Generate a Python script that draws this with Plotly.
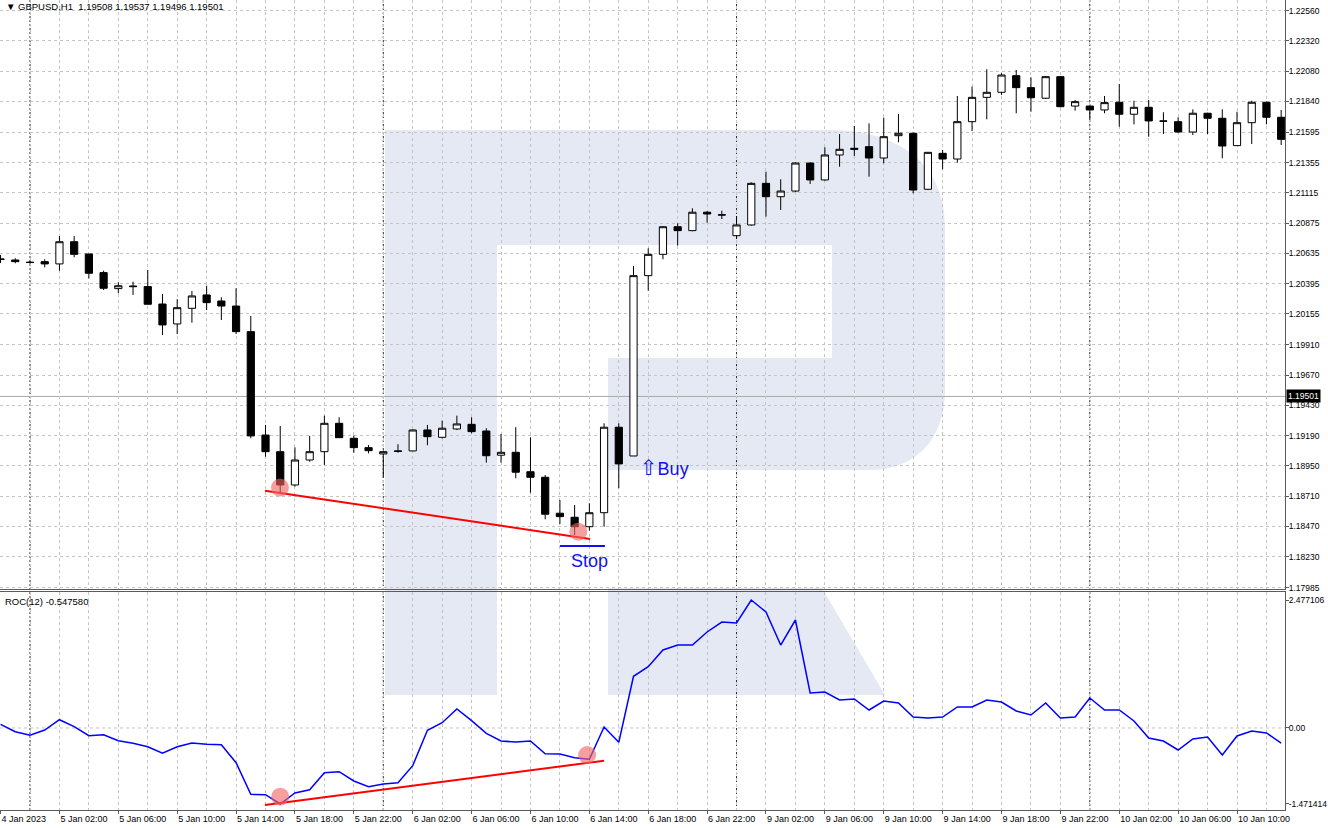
import plotly.graph_objects as go

# ---------------- data ----------------
bars = list(range(88))

opens = [1.20591, 1.20583, 1.20565, 1.20570, 1.20552, 1.20728, 1.20631, 1.20483, 1.20356, 1.20377,
         1.20372, 1.20234, 1.20076, 1.20200, 1.20306, 1.20258, 1.20218, 1.20015, 1.19195, 1.19063,
         1.18799, 1.18997, 1.19063, 1.19288, 1.19169, 1.19095, 1.19045, 1.19069, 1.19069, 1.19235,
         1.19177, 1.19243, 1.19280, 1.19227, 1.19035, 1.19058, 1.18904, 1.18860, 1.18575, 1.18543,
         1.18468, 1.18579, 1.19257, 1.19029, 1.20459, 1.20628, 1.20847, 1.20816, 1.20962, 1.20942,
         1.20776, 1.20861, 1.21191, 1.21085, 1.21130, 1.21352, 1.21218, 1.21416, 1.21469, 1.21482,
         1.21392, 1.21569, 1.21588, 1.21144, 1.21429, 1.21384, 1.21680, 1.21873, 1.21913, 1.22045,
         1.21950, 1.21866, 1.22037, 1.21804, 1.21804, 1.21773, 1.21834, 1.21739, 1.21794, 1.21686,
         1.21680, 1.21598, 1.21747, 1.21707, 1.21490, 1.21672, 1.21834, 1.21715]
highs = [1.20623, 1.20597, 1.20578, 1.20589, 1.20773, 1.20773, 1.20631, 1.20498, 1.20406, 1.20411,
         1.20504, 1.20314, 1.20272, 1.20337, 1.20379, 1.20287, 1.20359, 1.20139, 1.19275, 1.19267,
         1.19098, 1.19188, 1.19349, 1.19336, 1.19191, 1.19116, 1.19071, 1.19122, 1.19240, 1.19275,
         1.19309, 1.19349, 1.19336, 1.19249, 1.19203, 1.19257, 1.19177, 1.18878, 1.18680, 1.18640,
         1.18654, 1.19288, 1.19288, 1.20536, 1.20676, 1.20850, 1.20874, 1.20993, 1.20972, 1.20974,
         1.20932, 1.21199, 1.21283, 1.21223, 1.21358, 1.21358, 1.21477, 1.21582, 1.21646, 1.21667,
         1.21712, 1.21741, 1.21593, 1.21440, 1.21456, 1.21884, 1.21958, 1.22096, 1.22064, 1.22090,
         1.22032, 1.22042, 1.22042, 1.21852, 1.21804, 1.21884, 1.21979, 1.21846, 1.21852, 1.21755,
         1.21715, 1.21778, 1.21751, 1.21778, 1.21759, 1.21846, 1.21839, 1.21773]
lows = [1.20559, 1.20557, 1.20552, 1.20525, 1.20498, 1.20605, 1.20438, 1.20345, 1.20319, 1.20306,
        1.20232, 1.19988, 1.19996, 1.20086, 1.20187, 1.20107, 1.19996, 1.19169, 1.19023, 1.18733,
        1.18786, 1.18984, 1.18958, 1.19174, 1.19055, 1.19050, 1.18860, 1.19055, 1.19066, 1.19114,
        1.19169, 1.19235, 1.19209, 1.18976, 1.18976, 1.18852, 1.18738, 1.18527, 1.18490, 1.18402,
        1.18437, 1.18468, 1.18773, 1.19029, 1.20340, 1.20589, 1.20697, 1.20811, 1.20879, 1.20908,
        1.20750, 1.20855, 1.20927, 1.20980, 1.21122, 1.21186, 1.21212, 1.21323, 1.21408, 1.21244,
        1.21350, 1.21517, 1.21112, 1.21138, 1.21303, 1.21355, 1.21606, 1.21699, 1.21892, 1.21747,
        1.21759, 1.21860, 1.21794, 1.21767, 1.21693, 1.21747, 1.21640, 1.21659, 1.21561, 1.21582,
        1.21593, 1.21574, 1.21582, 1.21390, 1.21487, 1.21503, 1.21659, 1.21495]
closes = [1.20589, 1.20570, 1.20564, 1.20552, 1.20728, 1.20628, 1.20478, 1.20359, 1.20379, 1.20372,
          1.20232, 1.20068, 1.20205, 1.20298, 1.20245, 1.20218, 1.20015, 1.19188, 1.19063, 1.18799,
          1.18997, 1.19063, 1.19288, 1.19174, 1.19095, 1.19071, 1.19063, 1.19066, 1.19235, 1.19182,
          1.19249, 1.19283, 1.19222, 1.19031, 1.19058, 1.18900, 1.18860, 1.18567, 1.18548, 1.18468,
          1.18579, 1.19257, 1.18966, 1.20459, 1.20628, 1.20847, 1.20816, 1.20962, 1.20948, 1.20940,
          1.20861, 1.21191, 1.21085, 1.21130, 1.21352, 1.21218, 1.21416, 1.21461, 1.21461, 1.21392,
          1.21561, 1.21588, 1.21138, 1.21437, 1.21384, 1.21680, 1.21873, 1.21913, 1.22050, 1.21950,
          1.21870, 1.22037, 1.21799, 1.21839, 1.21773, 1.21831, 1.21739, 1.21794, 1.21686, 1.21684,
          1.21598, 1.21747, 1.21707, 1.21487, 1.21672, 1.21834, 1.21715, 1.21540]

roc = [0.071, -0.072, -0.142, -0.039, 0.160, 0.025, -0.150, -0.130, -0.246, -0.297,
       -0.363, -0.490, -0.363, -0.291, -0.316, -0.324, -0.672, -1.284, -1.292, -1.471414,
       -1.259, -1.195, -0.866, -0.846, -1.026, -1.137, -1.084, -1.059, -0.730, -0.045,
       0.102, 0.367, 0.141, -0.103, -0.252, -0.272, -0.252, -0.498, -0.504, -0.575,
       -0.606, 0.019, -0.277, 1.000, 1.186, 1.509, 1.606, 1.606, 1.858, 2.051,
       2.032, 2.477106, 2.245, 1.606, 2.090, 0.677, 0.696, 0.541, 0.561, 0.348,
       0.522, 0.483, 0.212, 0.193, 0.212, 0.406, 0.406, 0.541, 0.503, 0.329,
       0.251, 0.483, 0.193, 0.212, 0.580, 0.348, 0.348, 0.135, -0.194, -0.252,
       -0.426, -0.213, -0.175, -0.523, -0.155, -0.059, -0.097, -0.291]

label_bars = list(range(0, 88, 4))
label_text = ["4 Jan 2023", "5 Jan 02:00", "5 Jan 06:00", "5 Jan 10:00", "5 Jan 14:00", "5 Jan 18:00",
              "5 Jan 22:00", "6 Jan 02:00", "6 Jan 06:00", "6 Jan 10:00", "6 Jan 14:00", "6 Jan 18:00",
              "6 Jan 22:00", "9 Jan 02:00", "9 Jan 06:00", "9 Jan 10:00", "9 Jan 14:00", "9 Jan 18:00",
              "9 Jan 22:00", "10 Jan 02:00", "10 Jan 06:00", "10 Jan 10:00"]
day_starts = [2, 26, 50, 74]

price_ticks = [1.22560, 1.22320, 1.22080, 1.21840, 1.21595, 1.21355, 1.21115, 1.20875, 1.20635,
               1.20395, 1.20155, 1.19910, 1.19670, 1.19430, 1.19190, 1.18950, 1.18710, 1.18470,
               1.18230, 1.17985]
roc_ticks = [2.477106, 0.0, -1.471414]
roc_tick_text = ["2.477106", "0.00", "-1.471414"]
last_price = 1.19501

# hand-drawn analysis marks
price_trend_x = [17.97, 40.05]
price_trend_y = [1.18754, 1.18371]
price_marks_x = [18.98, 39.25]
price_marks_y = [1.18778, 1.18429]
roc_trend_x = [17.96, 41.0]
roc_trend_y = [-1.491, -0.634]
roc_marks_x = [19.0, 39.85]
roc_marks_y = [-1.33, -0.523]
stop_line_x = [38.0, 41.06]
stop_line_y = [1.18315, 1.18315]

# ---------------- layout geometry ----------------
W, H = 1328, 828
MR, MB = 43, 18
PW, PH = W - MR, H - MB


def fx(x):
    return x / PW


def fy(y):
    return 1 - y / PH


FONT = "Liberation Sans, Arial, sans-serif"
GRID = "#c4c4c4"
BLUE = "#1010f0"

fig = go.Figure()

fig.add_trace(go.Candlestick(
    x=bars, open=opens, high=highs, low=lows, close=closes,
    increasing=dict(line=dict(color="black", width=1), fillcolor="white"),
    decreasing=dict(line=dict(color="black", width=1), fillcolor="black"),
    whiskerwidth=0, xaxis="x", yaxis="y", hoverinfo="skip"))

fig.add_trace(go.Scatter(x=price_trend_x, y=price_trend_y, mode="lines",
                         line=dict(color="#ff0000", width=2), xaxis="x", yaxis="y"))
fig.add_trace(go.Scatter(x=price_marks_x, y=price_marks_y, mode="markers",
                         marker=dict(size=18, color="rgba(240,100,100,0.62)"), xaxis="x", yaxis="y"))
fig.add_trace(go.Scatter(x=stop_line_x, y=stop_line_y, mode="lines",
                         line=dict(color=BLUE, width=2), xaxis="x", yaxis="y"))

fig.add_trace(go.Scatter(x=bars, y=roc, mode="lines", line=dict(color="#0000ff", width=1.5),
                         xaxis="x2", yaxis="y2"))
fig.add_trace(go.Scatter(x=roc_trend_x, y=roc_trend_y, mode="lines",
                         line=dict(color="#ff0000", width=2), xaxis="x2", yaxis="y2"))
fig.add_trace(go.Scatter(x=roc_marks_x, y=roc_marks_y, mode="markers",
                         marker=dict(size=18, color="rgba(240,100,100,0.62)"), xaxis="x2", yaxis="y2"))

# ---------------- watermark logo ----------------
def path(points_cmds):
    out = []
    for cmd, pts in points_cmds:
        coords = " ".join(f"{fx(a):.5f},{fy(b):.5f}" for a, b in pts)
        out.append(f"{cmd} {coords}")
    return " ".join(out) + " Z"


logo_main = path([
    ("M", [(385, 130)]), ("L", [(830, 130)]),
    ("C", [(905, 130), (945, 170), (945, 225)]),
    ("L", [(945, 390)]),
    ("C", [(945, 440), (915, 470), (870, 470)]),
    ("L", [(608, 470)]), ("L", [(608, 358)]), ("L", [(832, 358)]), ("L", [(832, 245)]),
    ("L", [(497, 245)]), ("L", [(497, 695)]), ("L", [(385, 695)]),
])
logo_leg = path([("M", [(608, 588)]), ("L", [(822, 588)]), ("L", [(885, 695)]), ("L", [(608, 695)])])

shapes = []
for p in (logo_main, logo_leg):
    shapes.append(dict(type="path", path=p, xref="paper", yref="paper",
                       fillcolor="#e4e9f3", line=dict(width=0), layer="below"))

for b in day_starts:
    shapes.append(dict(type="line", xref="x", yref="paper", x0=b, x1=b, y0=0, y1=1,
                       line=dict(color="#2a2a2a", width=1, dash="2px,2px"), layer="between"))

shapes.append(dict(type="line", xref="paper", yref="y", x0=0, x1=1, y0=last_price, y1=last_price,
                   line=dict(color="#a8a8a8", width=1), layer="between"))
shapes.append(dict(type="line", xref="paper", yref="y2", x0=0, x1=1, y0=0, y1=0,
                   line=dict(color=GRID, width=1, dash="3px,3px"), layer="between"))

annotations = [
    dict(xref="paper", yref="paper", x=fx(4), y=fy(7), xanchor="left", yanchor="middle",
         text="▼ GBPUSD,H1  1.19508 1.19537 1.19496 1.19501", showarrow=False,
         font=dict(family=FONT, size=9.5, color="black")),
    dict(xref="paper", yref="paper", x=fx(3), y=fy(601), xanchor="left", yanchor="middle",
         text="ROC(12) -0.547580", showarrow=False, font=dict(family=FONT, size=9.5, color="black")),
    dict(xref="paper", yref="y", x=1, y=last_price, xanchor="left", yanchor="middle", xshift=1,
         text="1.19501", showarrow=False, bgcolor="black", borderpad=1,
         font=dict(family=FONT, size=8.5, color="white")),
    dict(xref="x", yref="y", x=43.3, y=1.18934, xanchor="left", yanchor="middle",
         text="<span style='font-family:DejaVu Sans;font-size:21px'>⇧</span>Buy", showarrow=False,
         font=dict(family=FONT, size=18, color=BLUE)),
    dict(xref="x", yref="y", x=39.98, y=1.18196, xanchor="center", yanchor="middle",
         text="Stop", showarrow=False, font=dict(family=FONT, size=18, color=BLUE)),
]

axis_line = "#5a5a5a"
xcommon = dict(range=[-0.038, 87.26], showline=True, mirror=True, linecolor=axis_line, linewidth=1,
               zeroline=False, tickvals=label_bars, ticktext=label_text, automargin=False,
               showgrid=True, gridcolor=GRID, griddash="3px,3px", gridwidth=1,
               minor=dict(tickvals=list(range(0, 88, 2)), showgrid=True, gridcolor=GRID,
                          griddash="3px,3px", gridwidth=1))

ytick_font = dict(family=FONT, size=8.5, color="black")

fig.update_layout(
    width=W, height=H,
    margin=dict(l=0, r=MR, t=0, b=MB, autoexpand=False),
    paper_bgcolor="white", plot_bgcolor="rgba(0,0,0,0)",
    showlegend=False, hovermode=False,
    font=dict(family=FONT, size=9, color="black"),
    xaxis=dict(**xcommon, anchor="y", showticklabels=False, ticks="",
               rangeslider=dict(visible=False)),
    xaxis2=dict(**xcommon, anchor="y2", matches="x", ticks="outside", ticklen=3, tickcolor=axis_line,
                ticklabelposition="outside right", tickangle=0,
                tickfont=dict(family=FONT, size=9, color="black")),
    yaxis=dict(domain=[fy(589), 1], range=[1.17974, 1.22645], side="right", anchor="x",
               showline=True, mirror=True, linecolor=axis_line, linewidth=1, zeroline=False,
               tickvals=price_ticks, ticktext=[f"{v:.5f}" for v in price_ticks], automargin=False,
               ticks="outside", ticklen=3, tickcolor=axis_line, ticklabelstandoff=-2,
               showgrid=True, gridcolor=GRID, griddash="3px,3px", gridwidth=1,
               tickfont=ytick_font),
    yaxis2=dict(domain=[0, fy(592)], range=[-1.5877, 2.6320], side="right", anchor="x2",
                showline=True, mirror=True, linecolor=axis_line, linewidth=1, zeroline=False,
                tickvals=roc_ticks, ticktext=roc_tick_text, showgrid=False, automargin=False,
                ticks="outside", ticklen=3, tickcolor=axis_line, ticklabelstandoff=-2,
                tickfont=ytick_font),
    shapes=shapes, annotations=annotations,
)

fig.write_html("out.html")
